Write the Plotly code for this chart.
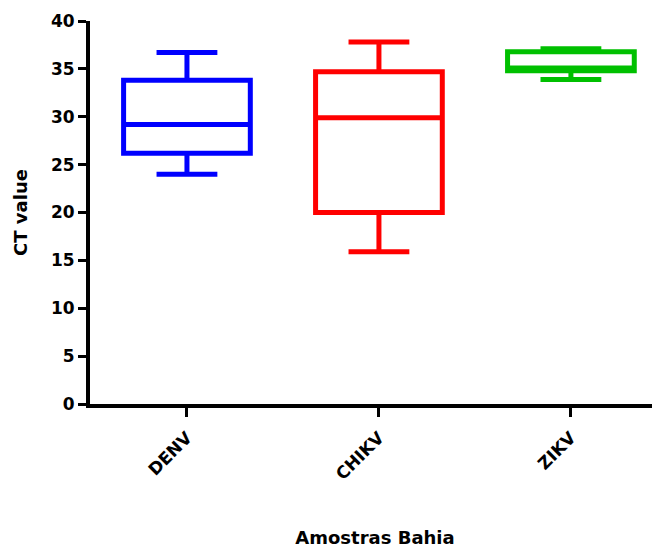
import plotly.graph_objects as go

categories = ["DENV", "CHIKV", "ZIKV"]
lower_whisker = [24.0, 15.9, 33.9]
q1 = [26.2, 20.0, 34.8]
median = [29.2, 29.9, 35.1]
q3 = [33.8, 34.7, 36.8]
upper_whisker = [36.7, 37.8, 37.1]
colors = ["#0000FF", "#FF0000", "#00C000"]

y_ticks = [0, 5, 10, 15, 20, 25, 30, 35, 40]

fig = go.Figure()
for i, cat in enumerate(categories):
    fig.add_trace(go.Box(
        x=[i], q1=[q1[i]], median=[median[i]], q3=[q3[i]],
        lowerfence=[lower_whisker[i]], upperfence=[upper_whisker[i]],
        name=cat, width=0.66, whiskerwidth=0.48,
        line=dict(color=colors[i], width=5),
        fillcolor="rgba(255,255,255,0)",
        boxpoints=False, showlegend=False,
    ))

font_family = "DejaVu Sans, Liberation Sans, Arial, sans-serif"
fig.update_layout(
    template="none",
    width=660, height=549,
    margin=dict(l=82, r=8, t=13, b=153),
    plot_bgcolor="white", paper_bgcolor="white",
    font=dict(family=font_family, color="black", size=17, weight="bold"),
    xaxis=dict(
        automargin=False,
        range=[-0.505, 2.464],
        tickmode="array", tickvals=[0, 1, 2], ticktext=categories,
        tickangle=-45, ticks="outside", ticklen=9, tickwidth=3, tickcolor="black",
        ticklabelstandoff=4,
        showline=True, linewidth=4, linecolor="black",
        showgrid=False, zeroline=False,
        tickfont=dict(size=17, family=font_family, weight="bold"),
        title=dict(text="Amostras Bahia", standoff=50,
                   font=dict(size=18, family=font_family, weight="bold")),
    ),
    yaxis=dict(
        automargin=False,
        range=[0, 40],
        tickmode="array", tickvals=y_ticks,
        ticks="outside", ticklen=8, tickwidth=3, tickcolor="black",
        showline=True, linewidth=4, linecolor="black",
        showgrid=False, zeroline=False,
        tickfont=dict(size=17, family=font_family, weight="bold"),
        title=dict(text="CT value", standoff=20,
                   font=dict(size=18, family=font_family, weight="bold")),
    ),
)

fig.write_html("out.html")
